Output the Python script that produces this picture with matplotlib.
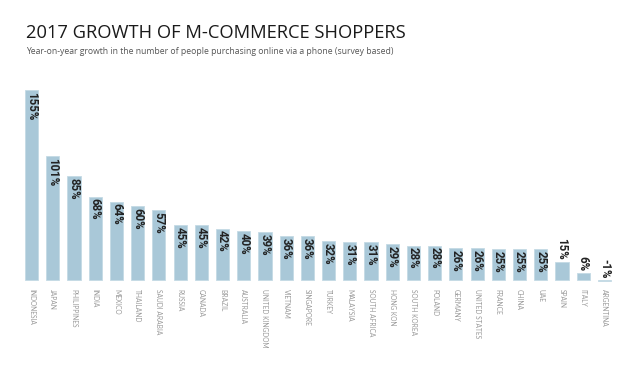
import matplotlib.pyplot as plt
import numpy as np

countries = ["INDONESIA", "JAPAN", "PHILIPPINES", "INDIA", "MEXICO", "THAILAND",
             "SAUDI ARABIA", "RUSSIA", "CANADA", "BRAZIL", "AUSTRALIA",
             "UNITED KINGDOM", "VIETNAM", "SINGAPORE", "TURKEY", "MALAYSIA",
             "SOUTH AFRICA", "HONG KON", "SOUTH KOREA", "POLAND", "GERMANY",
             "UNITED STATES", "FRANCE", "CHINA", "UAE", "SPAIN", "ITALY", "ARGENTINA"]
growth = [155, 101, 85, 68, 64, 60, 57, 45, 45, 42, 40, 39, 36, 36, 32, 31, 31,
          29, 28, 28, 26, 26, 25, 25, 25, 15, 6, -1]

bar_color = "#a9c8d8"

fig = plt.figure(figsize=(6.4, 3.8), dpi=100)
ax = fig.add_axes([21/640, 93.9/380, 594/640, 202.2/380])

x = np.arange(len(countries))
ax.bar(x, growth, width=0.62, color=bar_color, edgecolor="#c4dae5", linewidth=0.6)
ax.set_xlim(-0.5, len(countries) - 0.5)
ax.set_ylim(-5, 160)
ax.axis("off")

for i, (c, v) in enumerate(zip(countries, growth)):
    lab = "%d%%" % v
    if v > 20:
        ax.text(i, v - 1.5, lab, rotation=270, ha="center", va="top",
                fontsize=8.3, fontweight="bold", family="Roboto",
                color="#222222")
    else:
        ax.text(i, max(v, 0) + 1.5, lab, rotation=270, ha="center", va="bottom",
                fontsize=8.3, fontweight="bold", family="Roboto",
                color="#222222")
    ax.text(i, -7, c, rotation=270, ha="center", va="top", fontsize=4.8,
            family="Lato", color="#999999")

fig.text(26/640, 1 - 38/380, "2017 GROWTH OF M-COMMERCE SHOPPERS",
         fontsize=13.2, family="Open Sans", color="#1a1a1a")
fig.text(26/640, 1 - 54/380,
         "Year-on-year growth in the number of people purchasing online via a phone (survey based)",
         fontsize=6.25, family="Open Sans", color="#555555")

fig.savefig("out.png", dpi=100)
